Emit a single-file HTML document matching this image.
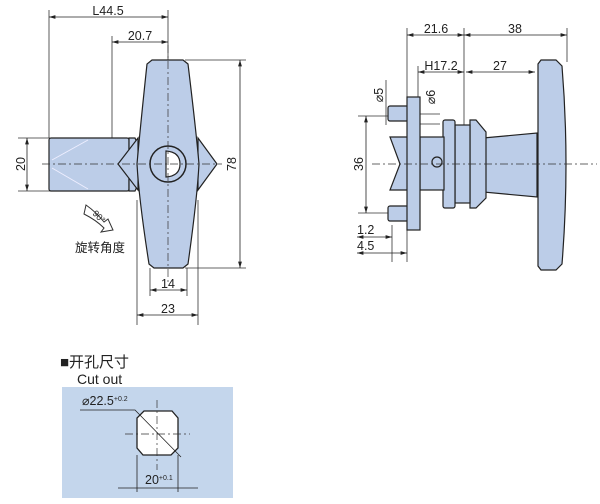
<!DOCTYPE html><html><head><meta charset="utf-8"><style>body{margin:0;background:#fff}svg{display:block}text{font-family:"Liberation Sans","Noto Sans CJK SC",sans-serif;fill:#222}</style></head><body>
<svg width="600" height="504" viewBox="0 0 600 504" xmlns="http://www.w3.org/2000/svg">
<defs><marker id="a" viewBox="0 0 10 6" refX="10" refY="3" markerWidth="8" markerHeight="5" orient="auto-start-reverse"><path d="M0,0L10,3L0,6z" fill="#222"/></marker></defs>
<g stroke="#333" stroke-width="0.8" fill="none">
<line x1="49" y1="10" x2="49" y2="138"/><line x1="168" y1="10" x2="168" y2="60"/><line x1="112" y1="36" x2="112" y2="138"/>
<line x1="18" y1="138" x2="50" y2="138"/><line x1="18" y1="191" x2="50" y2="191"/>
<line x1="185" y1="60" x2="246" y2="60"/><line x1="185" y1="268" x2="246" y2="268"/>
<line x1="150" y1="268" x2="150" y2="296"/><line x1="187" y1="268" x2="187" y2="296"/>
<line x1="137" y1="200" x2="137" y2="325"/><line x1="198" y1="200" x2="198" y2="325"/>
</g>
<g stroke="#222" stroke-width="0.8" marker-start="url(#a)" marker-end="url(#a)">
<line x1="49" y1="17" x2="168" y2="17"/><line x1="112" y1="42" x2="168" y2="42"/>
<line x1="27" y1="138" x2="27" y2="191"/><line x1="240" y1="60" x2="240" y2="268"/>
<line x1="150" y1="290" x2="187" y2="290"/><line x1="137" y1="315" x2="198" y2="315"/>
</g>
<g stroke="#222" stroke-width="1.2" fill="#bccde8">
<rect x="49" y="138" width="80" height="53" rx="2"/>
<path d="M129,138 L135,138 L141,152 L141,178 L135,191 L129,191 Z"/>
<path d="M138,138 L118,164 L138,190 Z"/><path d="M198,138 L217,164 L198,190 Z"/>
<path d="M152,60 L183,60 L188,64 Q196,130 199,164 Q197,200 188,264 L183,268 L154,268 L149,264 Q139,200 137,164 Q140,130 147,64 Z"/>
<circle cx="168" cy="164" r="18" fill="#bccde8" stroke-width="1.5"/>
<path d="M166,151 Q180,152 180,164 Q180,176 166,177 Z" fill="#fff"/>
</g>
<g stroke="#eef" stroke-width="1"><line x1="52" y1="160" x2="88" y2="140"/><line x1="52" y1="168" x2="88" y2="189"/></g>
<g stroke="#333" stroke-width="0.7" stroke-dasharray="8,3,2,3"><line x1="42" y1="164" x2="222" y2="164"/><line x1="168" y1="45" x2="168" y2="285"/></g>
<text x="108" y="15" font-size="12.5" text-anchor="middle">L44.5</text>
<text x="140" y="40" font-size="12.5" text-anchor="middle">20.7</text>
<text x="168" y="288" font-size="12.5" text-anchor="middle">14</text>
<text x="168" y="313" font-size="12.5" text-anchor="middle">23</text>
<text transform="translate(25,164) rotate(-90)" font-size="12.5" text-anchor="middle">20</text>
<text transform="translate(236,164) rotate(-90)" font-size="12.5" text-anchor="middle">78</text>
<path d="M86,205 Q96,212 104,222 L108,219 L113,230 L101,232 L104,228 Q96,220 84,214 Z" fill="#fff" stroke="#333" stroke-width="1"/>
<text transform="translate(92,214) rotate(45)" font-size="9">90°</text>
<text x="75" y="252" font-size="12.5">旋转角度</text>
<g stroke="#333" stroke-width="0.8" fill="none">
<line x1="407" y1="28" x2="407" y2="262"/><line x1="464" y1="28" x2="464" y2="125"/><line x1="567" y1="28" x2="567" y2="62"/>
<line x1="418" y1="66" x2="418" y2="98"/>
<line x1="358" y1="116" x2="392" y2="116"/><line x1="358" y1="213" x2="392" y2="213"/>
<line x1="386" y1="80" x2="386" y2="125"/><line x1="392" y1="225" x2="392" y2="262"/>
<line x1="420" y1="114" x2="440" y2="114"/><line x1="420" y1="124" x2="440" y2="124"/>
</g>
<g stroke="#222" stroke-width="0.8" marker-start="url(#a)" marker-end="url(#a)">
<line x1="407" y1="35" x2="464" y2="35"/><line x1="464" y1="35" x2="567" y2="35"/>
<line x1="418" y1="72" x2="464" y2="72"/><line x1="466" y1="72" x2="535" y2="72"/>
<line x1="366" y1="116" x2="366" y2="213"/>
<line x1="357" y1="237" x2="392" y2="237"/><line x1="357" y1="253" x2="407" y2="253"/>
</g>
<g stroke="#222" stroke-width="1.2" fill="#bccde8">
<path d="M483,138 L537,133 L537,197 L483,192 Z"/>
<path d="M541,60 L556,60 L562,66 Q570,164 562,264 L556,270 L541,270 L538,266 L538,64 Z"/>
<path d="M470,120 L476,120 L486,132 L486,198 L476,208 L470,208 Z"/>
<rect x="455" y="125" width="15" height="78"/>
<rect x="443" y="120" width="12" height="88" rx="2"/>
<rect x="420" y="137" width="24" height="53"/>
<path d="M390,137 L408,137 L408,190 L390,190 L400,164 Z"/>
<rect x="388" y="106" width="30" height="15" rx="2"/><rect x="388" y="206" width="30" height="15" rx="2"/>
<rect x="407" y="97" width="13" height="133"/>
<circle cx="437" cy="162" r="5"/>
</g>
<g stroke="#333" stroke-width="0.7" stroke-dasharray="8,3,2,3"><line x1="372" y1="164" x2="597" y2="164"/></g>
<text x="436" y="33" font-size="12.5" text-anchor="middle">21.6</text>
<text x="515" y="33" font-size="12.5" text-anchor="middle">38</text>
<text x="441" y="70" font-size="12.5" text-anchor="middle">H17.2</text>
<text x="500" y="70" font-size="12.5" text-anchor="middle">27</text>
<text transform="translate(363,164) rotate(-90)" font-size="12.5" text-anchor="middle">36</text>
<text transform="translate(383,95) rotate(-90)" font-size="12.5" text-anchor="middle">⌀5</text>
<text transform="translate(435,97) rotate(-90)" font-size="12.5" text-anchor="middle">⌀6</text>
<text x="357" y="234" font-size="12.5">1.2</text>
<text x="357" y="250" font-size="12.5">4.5</text>
<text x="60" y="367" font-size="15">■开孔尺寸</text>
<text x="77" y="384" font-size="14">Cut out</text>
<rect x="62" y="387" width="171" height="111" fill="#c4d6ec"/>
<path d="M144,411 L172,411 L178,418 L178,448 L171,455 L143,455 L137,448 L137,418 Z" fill="#fff" stroke="#222" stroke-width="1.3"/>
<g stroke="#333" stroke-width="0.7" stroke-dasharray="8,3,2,3"><line x1="125" y1="434" x2="190" y2="434"/><line x1="157" y1="400" x2="157" y2="470"/></g>
<g stroke="#222" stroke-width="0.8" fill="none"><polyline points="80,410 135,410 181,457"/><line x1="137" y1="455" x2="137" y2="492"/><line x1="178" y1="455" x2="178" y2="492"/></g>
<line x1="118" y1="488" x2="198" y2="488" stroke="#222" stroke-width="0.8"/>
<text x="82" y="405" font-size="12.5">⌀22.5<tspan font-size="7" dy="-4">+0.2</tspan></text>
<text x="145" y="484" font-size="12.5">20<tspan font-size="7" dy="-4">+0.1</tspan></text>
</svg></body></html>
